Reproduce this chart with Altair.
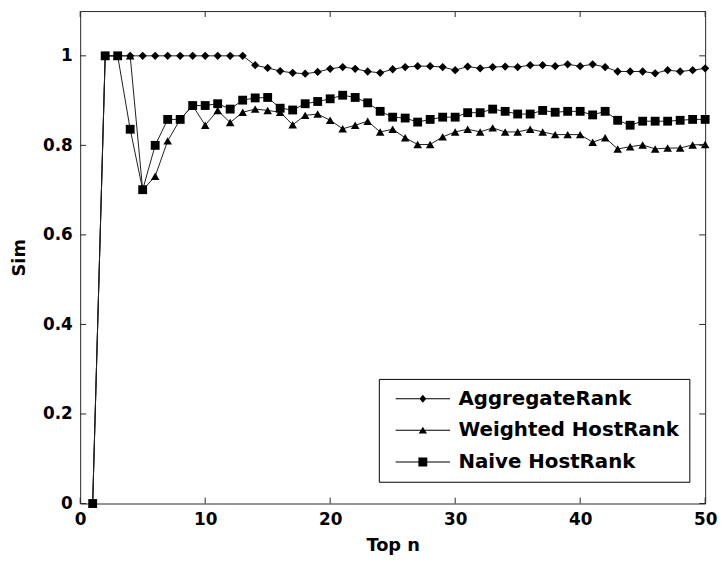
import altair as alt
import pandas as pd

# ---------------- data ----------------
top_n = list(range(1, 51))

aggregate_rank = [0.0, 1.0, 1.0, 1.0, 1.0, 1.0, 1.0, 1.0, 1.0, 1.0,
                  1.0, 1.0, 1.0, 0.979, 0.973, 0.966, 0.962, 0.960, 0.964, 0.971,
                  0.975, 0.971, 0.965, 0.962, 0.970, 0.975, 0.977, 0.977, 0.975, 0.968,
                  0.976, 0.972, 0.975, 0.976, 0.975, 0.979, 0.979, 0.977, 0.981, 0.977,
                  0.981, 0.975, 0.965, 0.965, 0.965, 0.961, 0.968, 0.965, 0.968, 0.972]

weighted_hostrank = [0.0, 1.0, 1.0, 1.0, 0.700, 0.731, 0.810, 0.858, 0.889, 0.845,
                     0.878, 0.851, 0.874, 0.881, 0.878, 0.874, 0.846, 0.867, 0.870, 0.856,
                     0.837, 0.845, 0.854, 0.830, 0.836, 0.817, 0.802, 0.802, 0.819, 0.830,
                     0.836, 0.830, 0.839, 0.830, 0.830, 0.836, 0.830, 0.824, 0.824, 0.824,
                     0.807, 0.817, 0.792, 0.797, 0.801, 0.792, 0.794, 0.794, 0.801, 0.802]

naive_hostrank = [0.0, 1.0, 1.0, 0.836, 0.701, 0.800, 0.858, 0.858, 0.889, 0.889,
                  0.893, 0.881, 0.901, 0.906, 0.907, 0.883, 0.879, 0.893, 0.898, 0.904,
                  0.912, 0.907, 0.895, 0.876, 0.863, 0.861, 0.852, 0.858, 0.863, 0.863,
                  0.873, 0.873, 0.881, 0.876, 0.870, 0.870, 0.878, 0.874, 0.876, 0.876,
                  0.868, 0.876, 0.856, 0.845, 0.854, 0.854, 0.854, 0.856, 0.858, 0.858]

series_names = ["AggregateRank", "Weighted HostRank", "Naive HostRank"]
x_ticks = [0, 10, 20, 30, 40, 50]
y_ticks = [0, 0.2, 0.4, 0.6, 0.8, 1.0]

rows = []
for name, vals in zip(series_names, [aggregate_rank, weighted_hostrank, naive_hostrank]):
    for n, v in zip(top_n, vals):
        rows.append({"n": n, "sim": v, "series": name})
df = pd.DataFrame(rows)
xt_df = pd.DataFrame({"n": x_ticks})
yt_df = pd.DataFrame({"sim": y_ticks})
leg_df = pd.DataFrame({"series": series_names})

# ---------------- style ----------------
W, H = 632, 498
FONT = "DejaVu Sans"
FRAME = "#262626"
TICK = 6

xs = alt.Scale(domain=[0, 50], nice=False, zero=False)
ys = alt.Scale(domain=[0, 1.1], nice=False, zero=False)

x_axis = alt.Axis(values=x_ticks, grid=False, domain=False, ticks=False, tickSize=0,
                  labelFont=FONT, labelFontSize=17, labelFontWeight="bold", labelColor="black",
                  labelPadding=8, format="d", labelFlush=False,
                  title="Top n", titleFont=FONT, titleFontSize=18, titleFontWeight="bold",
                  titleColor="black", titleBaseline="middle", titleY=43, titleX=W / 2)
y_axis = alt.Axis(values=y_ticks, grid=False, domain=False, ticks=False, tickSize=0,
                  labelFont=FONT, labelFontSize=17, labelFontWeight="bold", labelColor="black",
                  labelPadding=8, format="~g", labelFlush=False,
                  title="Sim", titleFont=FONT, titleFontSize=18, titleFontWeight="bold",
                  titleColor="black", titleBaseline="middle", titleX=-61, titleY=H / 2)

X = alt.X("n:Q", scale=xs, axis=x_axis)
Y = alt.Y("sim:Q", scale=ys, axis=y_axis)

lines = alt.Chart(df).mark_line(color="#1e1e1e", strokeWidth=1).encode(
    x=X, y=Y, detail="series:N", order="n:Q")

points = alt.Chart(df).mark_point(filled=True, color="black", opacity=1, strokeWidth=0).encode(
    x=X, y=Y,
    shape=alt.Shape("series:N", scale=alt.Scale(domain=series_names,
                                                range=["diamond", "triangle-up", "square"]),
                    legend=None),
    size=alt.Size("series:O", sort=series_names,
                  scale=alt.Scale(domain=series_names, range=[70, 80, 121]), legend=None),
)

# inward ticks on all four sides (MATLAB box style); same axis defs so axes merge
tick_x_bottom = alt.Chart(xt_df).mark_rule(color=FRAME, strokeWidth=1).encode(
    x=X, y=alt.value(H), y2=alt.value(H - TICK))
tick_x_top = alt.Chart(xt_df).mark_rule(color=FRAME, strokeWidth=1).encode(
    x=X, y=alt.value(0), y2=alt.value(TICK))
tick_y_left = alt.Chart(yt_df).mark_rule(color=FRAME, strokeWidth=1).encode(
    y=Y, x=alt.value(0), x2=alt.value(TICK))
tick_y_right = alt.Chart(yt_df).mark_rule(color=FRAME, strokeWidth=1).encode(
    y=Y, x=alt.value(W), x2=alt.value(W - TICK))

# legend carrier: line + marker symbols (custom paths), marks themselves clipped away
line_part = "M-5.5,-0.1H5.5V0.1H-5.5Z"
leg_paths = [
    line_part + "M0,-0.8L0.7,0L0,0.8L-0.7,0Z",
    line_part + "M0,-0.75L0.85,0.65H-0.85Z",
    line_part + "M-0.9,-0.9H0.9V0.9H-0.9Z",
]
legend_layer = alt.Chart(leg_df).mark_point(filled=True, color="black", clip=True, opacity=1).encode(
    x=alt.value(-400), y=alt.value(-400),
    shape=alt.Shape("series:N", scale=alt.Scale(domain=series_names, range=leg_paths),
                    legend=alt.Legend(title=None, orient="none", legendX=302, legendY=372,
                                      direction="vertical", padding=10,
                                      strokeColor="black", fillColor="white",
                                      symbolSize=100, symbolOffset=24.5, labelOffset=26,
                                      symbolStrokeWidth=0, symbolFillColor="black",
                                      symbolOpacity=1,
                                      labelFont=FONT, labelFontSize=20, labelFontWeight="bold",
                                      labelColor="black", labelLimit=400, rowPadding=12)),
)

chart = alt.layer(
    lines, points, tick_x_bottom, tick_x_top, tick_y_left, tick_y_right, legend_layer
).resolve_scale(shape="independent", size="independent").properties(
    width=W, height=H,
    autosize=alt.AutoSizeParams(type="none"),
    padding={"left": 73, "top": 0, "right": 14, "bottom": 52},
    background="white",
).configure_view(stroke=FRAME, strokeWidth=1)

chart.save("out.html", embed_options={"renderer": "svg", "actions": False})
